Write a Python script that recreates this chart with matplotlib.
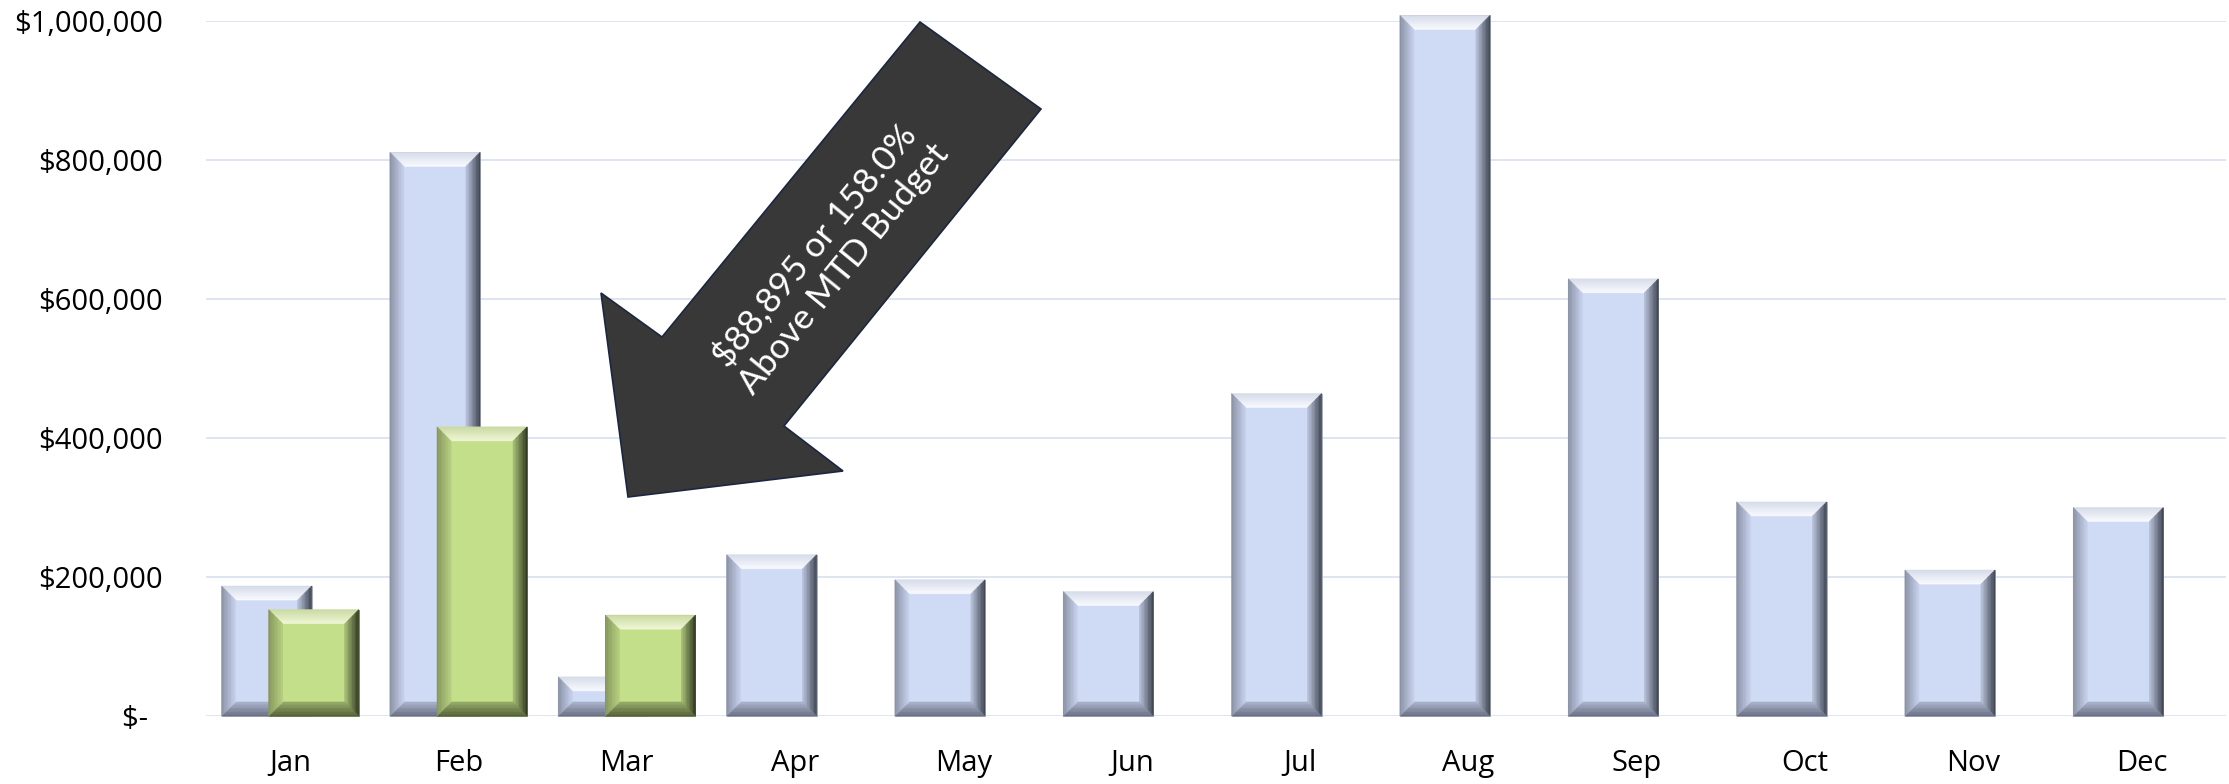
import numpy as np
import matplotlib.pyplot as plt
from matplotlib.patches import Polygon
from matplotlib.ticker import FuncFormatter
from matplotlib.colors import to_rgb

# monthly figures
months = ['Jan', 'Feb', 'Mar', 'Apr', 'May', 'Jun',
          'Jul', 'Aug', 'Sep', 'Oct', 'Nov', 'Dec']
budget = [187000, 811000, 56263, 232000, 196000, 179000,
          464000, 1008000, 629000, 308000, 210000, 300000]
actual = [153000, 416000, 145158]
yticks = [0, 200000, 400000, 600000, 800000, 1000000]

W, H = 2229, 784
fig = plt.figure(figsize=(W / 100, H / 100), dpi=100)
ax = fig.add_axes([206 / W, 68 / H, 2020 / W, 695 / H])
ax.set_xlim(-0.5, 11.5)
ax.set_ylim(0, 1000000)

# colours: (outer, inner) for the top, right, bottom and left bevel faces
blue_face = '#CFDBF4'
blue_sides = {'top': ('#D5DBE8', '#FAFBFF'), 'right': ('#3A3F4C', '#B9C3DA'),
              'bottom': ('#666D80', '#A8B2CA'), 'left': ('#8990A3', '#C6D1EC')}
green_face = '#C3DF8A'
green_sides = {'top': ('#CAD9A3', '#F0F8D8'), 'right': ('#2C331D', '#A8BF78'),
               'bottom': ('#525E36', '#95AA68'), 'left': ('#84965C', '#B6CF7F')}


def mix(a, b, t):
    a, b = np.array(to_rgb(a)), np.array(to_rgb(b))
    return tuple(a + (b - a) * t)


def bevel(ax, rect, sides, bx, by, z, steps=10):
    x0, y0 = rect.get_x(), rect.get_y()
    x1, y1 = x0 + rect.get_width(), y0 + rect.get_height()
    by = min(by, rect.get_height() / 2.2)

    def inset(t):
        X0, Y0, X1, Y1 = x0 + t * bx, y0 + t * by, x1 - t * bx, y1 - t * by
        return {'BL': (X0, Y0), 'BR': (X1, Y0), 'TR': (X1, Y1), 'TL': (X0, Y1)}

    order = {'top': ('TL', 'TR'), 'right': ('TR', 'BR'),
             'bottom': ('BL', 'BR'), 'left': ('BL', 'TL')}
    for i in range(steps):
        a, b = inset(i / steps), inset((i + 1) / steps)
        t = (i + 0.5) / steps
        for side, (c1, c2) in order.items():
            col = mix(sides[side][0], sides[side][1], t)
            quad = [a[c1], a[c2], b[c2], b[c1]]
            ax.add_patch(Polygon(quad, closed=True, facecolor=col, edgecolor=col,
                                 lw=0.4, zorder=z + 0.1, clip_on=False))


x = np.arange(len(months))
width = 0.535
bx = 14 / 168.3
by = 14 * 200000 / 139

bars_b = ax.bar(x - 0.14, budget, width, color=blue_face, edgecolor='#9AA1B2',
                lw=0.6, zorder=2, clip_on=False)
for r in bars_b:
    bevel(ax, r, blue_sides, bx, by, 2)

bars_a = ax.bar(x[:len(actual)] + 0.14, actual, width, color=green_face,
                edgecolor='#6E7D4A', lw=0.6, zorder=3, clip_on=False)
for r in bars_a:
    bevel(ax, r, green_sides, bx, by, 3)

# axes styling
ax.set_yticks(yticks)
ax.yaxis.set_major_formatter(FuncFormatter(lambda v, p: '$-  ' if v == 0 else f'${v:,.0f}'))
ax.set_xticks(x)
ax.set_xticklabels(months)
for s in ax.spines.values():
    s.set_visible(False)
ax.tick_params(axis='both', length=0, labelsize=21, colors='black')
ax.tick_params(axis='y', pad=31)
ax.tick_params(axis='x', pad=24)
for lab in ax.get_xticklabels() + ax.get_yticklabels():
    lab.set_family('Open Sans')
ax.grid(axis='y', color='#DCE2F0', lw=1.3, zorder=0)
ax.set_axisbelow(True)

# call-out arrow pointing at March
pts = [(920, 22), (1041, 109), (784, 426), (843, 471), (628, 497), (601, 293), (662, 337)]
arrow = Polygon([(px / W, 1 - py / H) for px, py in pts], closed=True,
                facecolor='#383838', edgecolor='#1B2640', lw=1.2,
                transform=fig.transFigure, zorder=10, clip_on=False)
ax.add_patch(arrow)
fig.text(829 / W, 1 - 257 / H, '$88,895 or 158.0%\nAbove MTD Budget',
         rotation=50.8, rotation_mode='anchor', ha='center', va='center',
         multialignment='center', color='white', family='Lato', fontsize=25.5,
         linespacing=1.2, zorder=11)

fig.savefig('out.png', dpi=100, facecolor='white')
